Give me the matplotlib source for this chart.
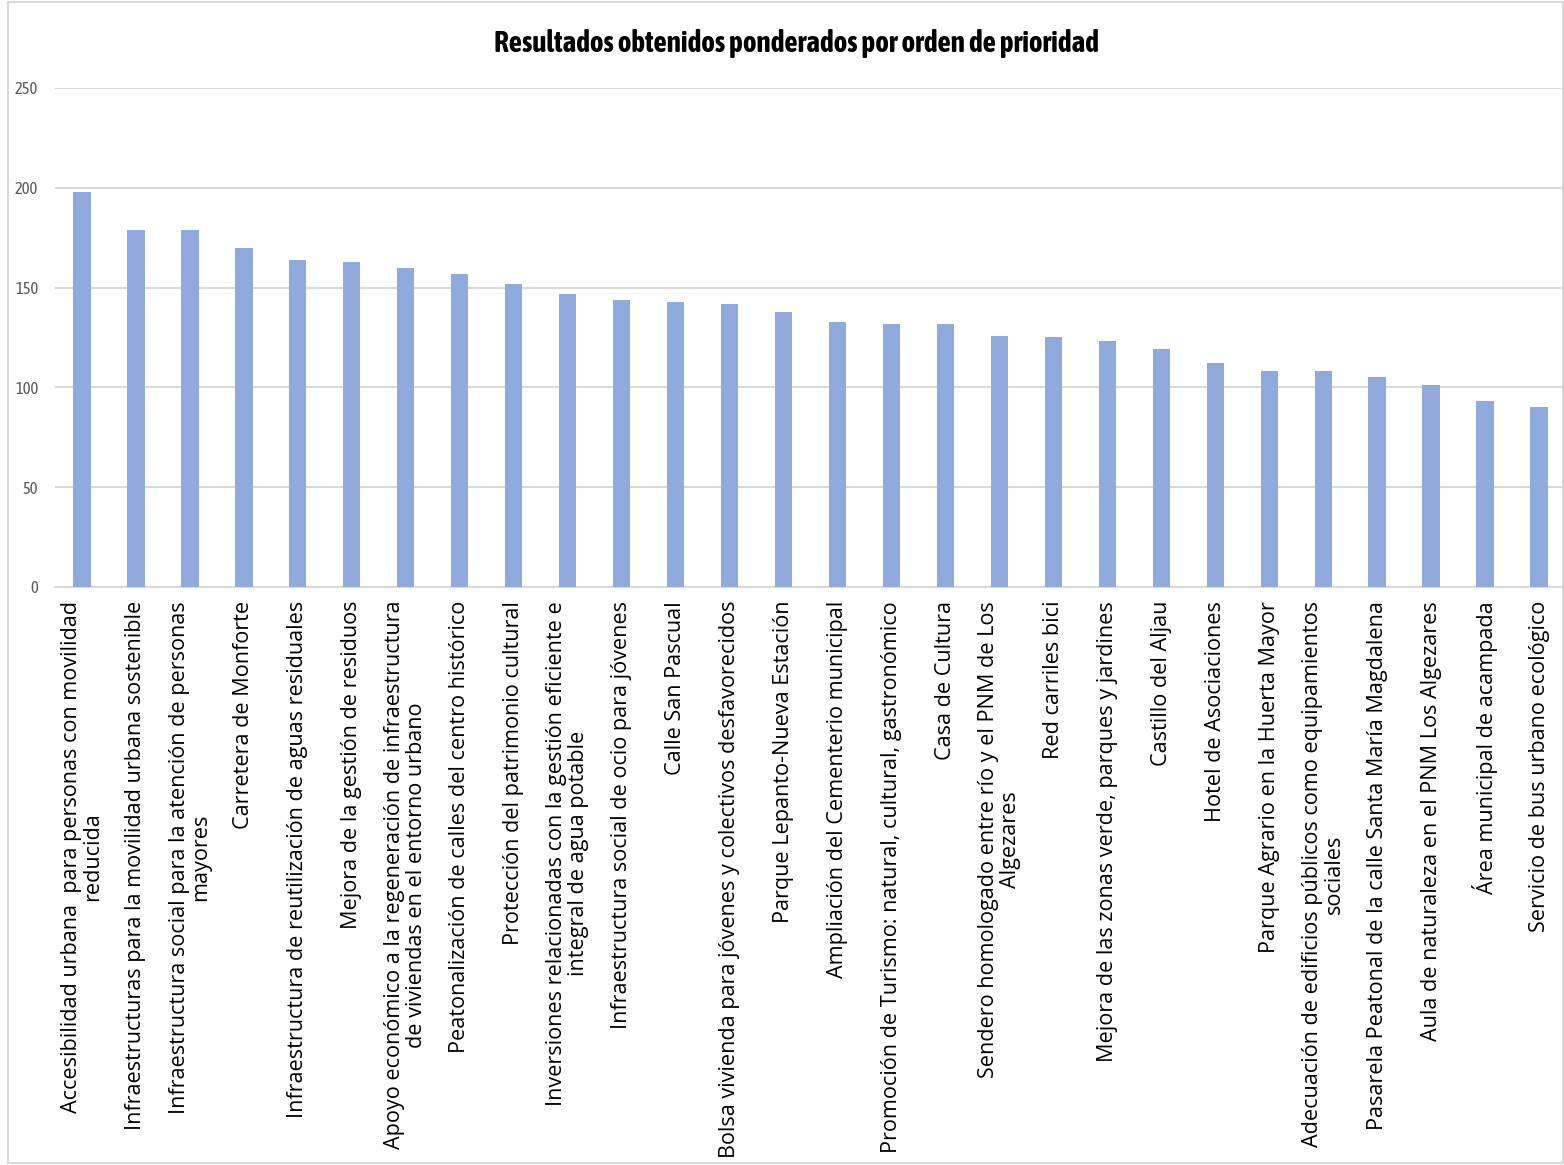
import matplotlib
matplotlib.use("Agg")
import matplotlib.pyplot as plt

categories = [
    "Accesibilidad urbana  para personas con movilidad\nreducida",
    "Infraestructuras para la movilidad urbana sostenible",
    "Infraestructura social para la atención de personas\nmayores",
    "Carretera de Monforte",
    "Infraestructura de reutilización de aguas residuales",
    "Mejora de la gestión de residuos",
    "Apoyo económico a la regeneración de infraestructura\nde viviendas en el entorno urbano",
    "Peatonalización de calles del centro histórico",
    "Protección del patrimonio cultural",
    "Inversiones relacionadas con la gestión eficiente e\nintegral de agua potable",
    "Infraestructura social de ocio para jóvenes",
    "Calle San Pascual",
    "Bolsa vivienda para jóvenes y colectivos desfavorecidos",
    "Parque Lepanto-Nueva Estación",
    "Ampliación del Cementerio municipal",
    "Promoción de Turismo: natural, cultural, gastronómico",
    "Casa de Cultura",
    "Sendero homologado entre río y el PNM de Los\nAlgezares",
    "Red carriles bici",
    "Mejora de las zonas verde, parques y jardines",
    "Castillo del Aljau",
    "Hotel de Asociaciones",
    "Parque Agrario en la Huerta Mayor",
    "Adecuación de edificios públicos como equipamientos\nsociales",
    "Pasarela Peatonal de la calle Santa María Magdalena",
    "Aula de naturaleza en el PNM Los Algezares",
    "Área municipal de acampada",
    "Servicio de bus urbano ecológico",
]
values = [198, 179, 179, 170, 164, 163, 160, 157, 152, 147, 144, 143, 142, 138,
          133, 132, 132, 126, 125, 123, 119, 112, 108, 108, 105, 101, 93, 90]
yticks = [0, 50, 100, 150, 200, 250]
title = "Resultados obtenidos ponderados por orden de prioridad"

narrow = ["Asap Condensed", "Liberation Sans Narrow", "DejaVu Sans"]
label_font = ["Open Sans", "DejaVu Sans"]

W, H = 1564, 1165
fig = plt.figure(figsize=(W / 100, H / 100), dpi=100)
ax = fig.add_axes([55 / W, 1 - 587 / H, (1566 - 55) / W, (587 - 88) / H])

x = list(range(len(values)))
ax.bar(x, values, width=0.32, color="#8FAADC", zorder=3)
ax.set_xlim(-0.5, len(values) - 0.5)
ax.set_ylim(0, 250)
ax.set_yticks(yticks)
ax.set_yticklabels([str(t) for t in yticks], family=narrow,
                   fontsize=12, color="#595959")
ax.yaxis.grid(True, color="#D9D9D9", linewidth=1.5, zorder=0)
ax.tick_params(axis="y", length=0, pad=12)
ax.tick_params(axis="x", length=0, pad=10)
for s in ["top", "right", "left"]:
    ax.spines[s].set_visible(False)
ax.spines["bottom"].set_color("#D9D9D9")
ax.spines["bottom"].set_linewidth(1.5)

ax.set_xticks(x)
ax.set_xticklabels(categories, rotation=90, ha="center", va="top",
                   multialignment="center", family=label_font,
                   fontsize=15.6, color="#000000", linespacing=1.05)

fig.text(796 / W, 1 - 44 / H, title, ha="center", va="center",
         family=narrow, fontweight="bold", fontsize=21, color="#000000")

fig.add_artist(plt.Rectangle((8 / W, 0.002), 1 - 9 / W, 1 - 0.004,
                             transform=fig.transFigure, fill=False,
                             edgecolor="#D9D9D9", linewidth=1.5))

fig.savefig("out.png", dpi=100, facecolor="white")
